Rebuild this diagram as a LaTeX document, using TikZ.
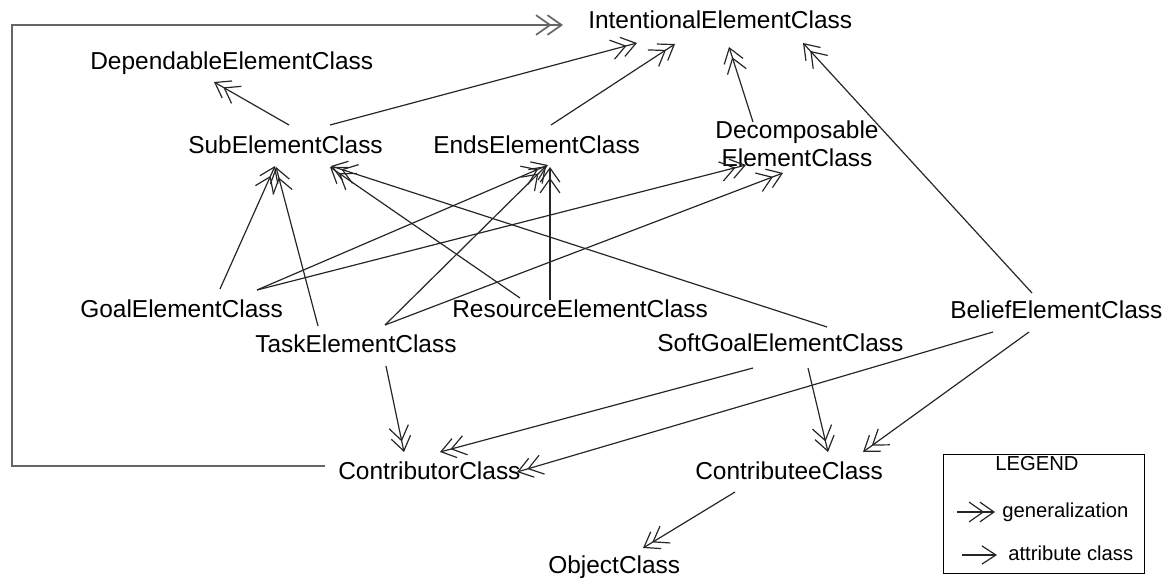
\documentclass[tikz,border=0pt]{standalone}
\usepackage{fontspec}
\setmainfont{Liberation Sans}
\usetikzlibrary{arrows.meta}
\usetikzlibrary{calc}

\begin{document}
\begin{tikzpicture}[x=0.025cm,y=-0.025cm,
    cls/.style={anchor=base west,inner sep=0pt,font=\fontsize{17.4}{20}\selectfont},
    leg/.style={anchor=base west,inner sep=0pt,font=\fontsize{14.4}{17}\selectfont},
    gen/.style={line width=0.85pt,draw=black!85,
      -{Straight Barb[length=10pt,width=14pt,sep=-3.5pt]Straight Barb[length=10pt,width=14pt]}},
    attr/.style={line width=0.85pt,draw=black!85,-{Straight Barb[length=10pt,width=13pt]}},
    frame/.style={gen,line width=1.2pt,draw=black!60}
    ]
  \useasboundingbox (0,0) rectangle (1170,578);

  \node[cls] (int)  at (588,29)  {IntentionalElementClass};
  \node[cls] (dep)  at (90,70)   {DependableElementClass};
  \node[cls] (sub)  at (188,153) {SubElementClass};
  \node[cls] (ends) at (433,153) {EndsElementClass};
  \node[cls,anchor=north,align=center] (dec) at (797,120) {Decomposable\\ElementClass};
  \node[cls] (goal) at (80,317)  {GoalElementClass};
  \node[cls] (task) at (255,352) {TaskElementClass};
  \node[cls] (res)  at (452,317) {ResourceElementClass};
  \node[cls] (soft) at (657,351) {SoftGoalElementClass};
  \node[cls] (bel)  at (950,318) {BeliefElementClass};
  \node[cls] (ctor) at (338,479) {ContributorClass};
  \node[cls] (ctee) at (695,479) {ContributeeClass};
  \node[cls] (obj)  at (548,573) {ObjectClass};

  \draw[gen] ($(sub.base west)+(101,-28)$) -- ($(dep.base west)+(124,12)$);
  \draw[gen] ($(sub.base west)+(142,-28)$) -- ($(int.base west)+(49,14)$);
  \draw[gen] ($(ends.base west)+(118,-28)$) -- ($(int.base west)+(87,15)$);
  \draw[gen] ($(dec.north)+(-44,2)$) -- ($(int.base west)+(141,18)$);
  \draw[gen] ($(bel.base west)+(82,-25)$) -- ($(int.base west)+(215,14)$);
  \draw[gen] ($(goal.base west)+(140,-28)$) -- ($(sub.base west)+(87,13)$);
  \draw[gen] ($(task.base west)+(63,-26)$) -- ($(sub.base west)+(88,14)$);
  \draw[gen] ($(res.base west)+(68,-19)$) -- ($(sub.base west)+(142,14)$);
  \draw[gen] ($(soft.base west)+(170,-24)$) -- ($(sub.base west)+(143,13)$);
  \draw[gen] ($(goal.base west)+(177,-27)$) -- ($(ends.base west)+(115,12)$);
  \draw[gen] ($(goal.base west)+(177,-27)$) -- ($(dec.north)+(-51,45)$);
  \draw[gen] ($(task.base west)+(130,-27)$) -- ($(ends.base west)+(113,13)$);
  \draw[gen] ($(task.base west)+(130,-27)$) -- ($(dec.north)+(-14,53)$);
  \draw[gen] ($(res.base west)+(98,-17)$) -- ($(ends.base west)+(117,14)$);
  \draw[gen] ($(task.base west)+(131,14)$) -- ($(ctor.base west)+(66,-27)$);
  \draw[gen] ($(soft.base west)+(96,17)$) -- ($(ctor.base west)+(102,-27)$);
  \draw[gen] ($(bel.base west)+(43,14)$) -- ($(ctor.base west)+(179,-7)$);
  \draw[gen] ($(soft.base west)+(151,17)$) -- ($(ctee.base west)+(133,-27)$);
  \draw[gen] ($(bel.base west)+(79,14)$) -- ($(ctee.base west)+(168,-27)$);
  \draw[gen] ($(ctee.base west)+(40,13)$) -- ($(obj.base west)+(95,-25)$);

  % contributor back round to the top
  \coordinate (corner) at (12,25);
  \draw[frame] ($(ctor.base west)+(-13,-13)$) -| (corner) -- ($(int.base west)+(-25,-4)$);

  % legend
  \draw[line width=0.7pt] (943,454) rectangle (1144,573);
  \node[leg] (legtitle) at (995,470)  {LEGEND};
  \node[leg] (gentxt)   at (1002,517) {generalization};
  \node[leg] (attrtxt)  at (1008,560) {attribute class};
  \coordinate (genfrom)  at (957,512);
  \coordinate (attrfrom) at (962,555);
  \draw[gen]  (genfrom)  -- ($(gentxt.base west)+(-7,-5)$);
  \draw[attr] (attrfrom) -- ($(attrtxt.base west)+(-11,-5)$);
\end{tikzpicture}
\end{document}
